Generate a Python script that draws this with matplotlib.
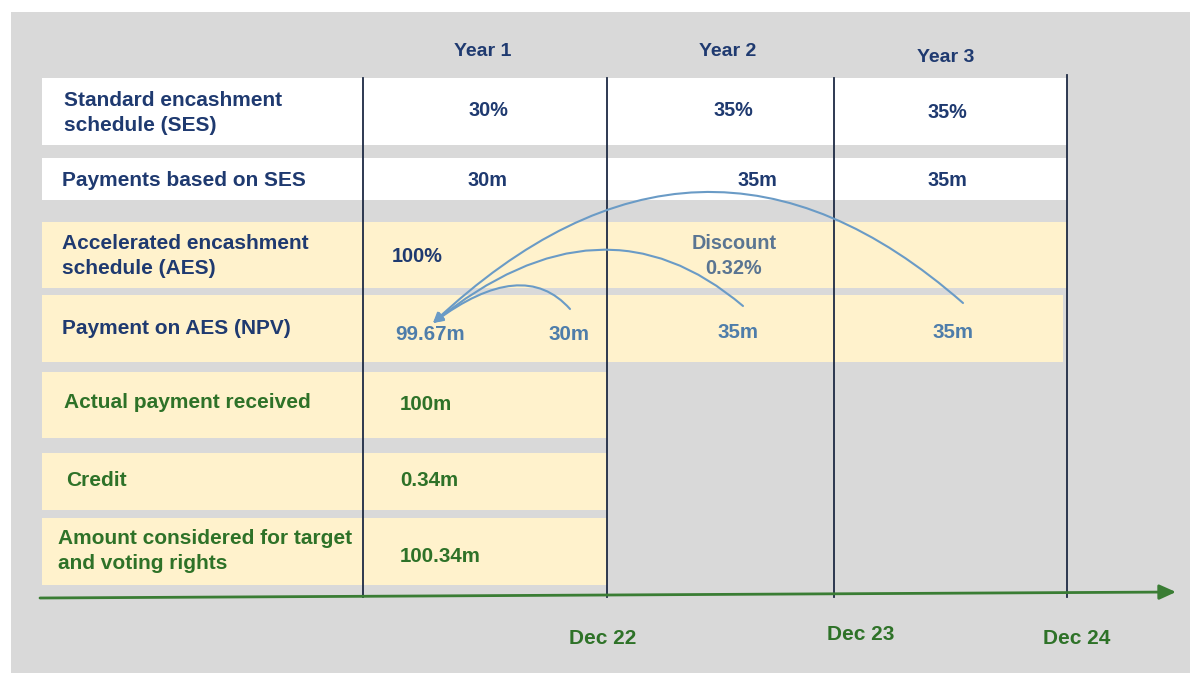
import matplotlib
matplotlib.use("Agg")
import matplotlib.pyplot as plt
from matplotlib.patches import Rectangle, FancyArrowPatch
from matplotlib.path import Path

plt.rcParams['font.family'] = ['Liberation Sans', 'DejaVu Sans']

# ---- data ----
years = ["Year 1", "Year 2", "Year 3"]
dates = ["Dec 22", "Dec 23", "Dec 24"]
row_labels = [
    "Standard encashment\nschedule (SES)",
    "Payments based on SES",
    "Accelerated encashment\nschedule (AES)",
    "Payment on AES (NPV)",
    "Actual payment received",
    "Credit",
    "Amount considered for target\nand voting rights",
]
ses_pct = ["30%", "35%", "35%"]
ses_pay = ["30m", "35m", "35m"]
aes_pct = "100%"
discount_label = "Discount\n0.32%"
npv_total = "99.67m"
aes_pay = ["30m", "35m", "35m"]
actual_received = "100m"
credit = "0.34m"
amount_considered = "100.34m"

# ---- style ----
BG = "#D9D9D9"
WHITE = "#FFFFFF"
CREAM = "#FFF2CC"
NAVY = "#1F3A70"
STEEL = "#4E7DAA"
DISC = "#5A7592"
GREEN = "#2E7228"
ARC = "#6A9BC6"
LINE = "#1E2A44"
VAL_FS = 14.3

fig = plt.figure(figsize=(11.9, 6.73), dpi=100)
ax = fig.add_axes([0, 0, 1, 1])
ax.set_xlim(0, 1190)
ax.set_ylim(673, 0)
ax.axis("off")

ax.add_patch(Rectangle((11, 12), 1179, 661, facecolor=BG, edgecolor="none", zorder=0))

# row bands (x0, x1, y0, y1, colour)
bands = [
    (42, 1067, 78, 145, WHITE),
    (42, 1067, 158, 200, WHITE),
    (42, 1067, 222, 288, CREAM),
    (42, 1063, 295, 362, CREAM),
    (42, 607, 372, 438, CREAM),
    (42, 607, 453, 510, CREAM),
    (42, 607, 518, 585, CREAM),
]
for x0, x1, y0, y1, c in bands:
    ax.add_patch(Rectangle((x0, y0), x1 - x0, y1 - y0, facecolor=c, edgecolor="none", zorder=1))

# vertical column lines
for xv, ytop in zip([363, 607, 834, 1067], [78, 78, 78, 75]):
    ax.plot([xv, xv], [ytop, 597], color=LINE, lw=1.3, zorder=3)

# timeline arrow
ax.annotate("", xy=(1176, 592), xytext=(40, 598),
            arrowprops=dict(arrowstyle="-|>,head_length=1.0,head_width=0.45", color="#3A7D34", lw=2.0,
                            shrinkA=0, shrinkB=0), zorder=4)

# year headers
for lab, (x, y) in zip(years, [(483, 52), (728, 51), (946, 57)]):
    ax.text(x, y, lab, ha="center", va="center", fontsize=14, fontweight="bold", color=NAVY, zorder=5)

# dates
for lab, (x, y) in zip(dates, [(603, 638), (861, 634), (1077, 639)]):
    ax.text(x, y, lab, ha="center", va="center", fontsize=15, fontweight="bold", color=GREEN, zorder=5)

# row labels
label_pos = [(64, 113), (62, 181), (62, 256), (62, 329), (64, 402), (66, 481), (58, 551)]
label_col = [NAVY, NAVY, NAVY, NAVY, GREEN, GREEN, GREEN]
for lab, (x, y), c in zip(row_labels, label_pos, label_col):
    ax.text(x, y, lab, ha="left", va="center", fontsize=15, fontweight="bold", color=c,
            linespacing=1.35, zorder=5)

# row 1 & 2 values
for v, (x, y) in zip(ses_pct, [(488, 110), (733, 110), (947, 112)]):
    ax.text(x, y, v, ha="center", va="center", fontsize=VAL_FS, fontweight="bold", color=NAVY, zorder=5)
for v, (x, y) in zip(ses_pay, [(488, 181), (757, 180), (947, 181)]):
    ax.text(x, y, v, ha="center", va="center", fontsize=VAL_FS, fontweight="bold", color=NAVY, zorder=5)

# row 3
ax.text(392, 256, aes_pct, ha="left", va="center", fontsize=VAL_FS, fontweight="bold", color=NAVY, zorder=5)
ax.text(734, 256, discount_label, ha="center", va="center", fontsize=VAL_FS, fontweight="bold",
        color=DISC, linespacing=1.45, zorder=5)

# row 4
ax.text(395, 335, npv_total, ha="left", va="center", fontsize=VAL_FS + 0.5, fontweight="bold", color=STEEL, zorder=5)
for v, (x, y) in zip(aes_pay, [(569, 335), (738, 333), (953, 333)]):
    ax.text(x, y, v, ha="center", va="center", fontsize=VAL_FS + 0.5, fontweight="bold", color=STEEL, zorder=5)

# rows 5-7
for v, y in zip([actual_received, credit, amount_considered], [404, 480, 557]):
    ax.text(400, y, v, ha="left", va="center", fontsize=VAL_FS + 0.5, fontweight="bold", color=GREEN, zorder=5)

# discount arcs (quadratic curves converging on the NPV value)
tip = (433, 323)
arcs = [((570, 309), (523, 256)), ((743, 306), (602, 186)), ((963, 303), (700, 72))]
for start, ctrl in arcs:
    p = Path([start, ctrl, tip], [Path.MOVETO, Path.CURVE3, Path.CURVE3])
    ax.add_patch(FancyArrowPatch(path=p, arrowstyle="-|>,head_length=6,head_width=3",
                                 color=ARC, lw=1.5, zorder=6))

fig.savefig("out.png", dpi=100, facecolor="white")
